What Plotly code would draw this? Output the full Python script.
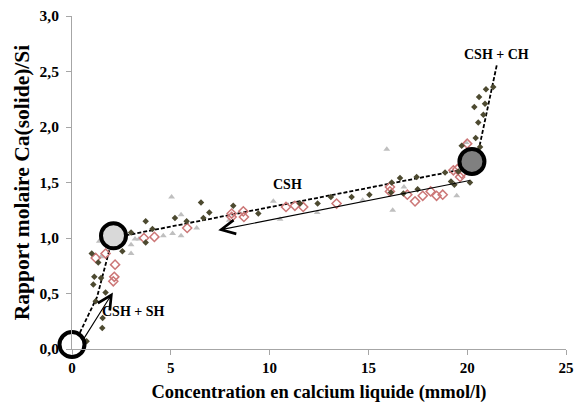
import plotly.graph_objects as go

# --------------------------------------------------
# DATA
# --------------------------------------------------

# dark diamonds
dark_x = [0.74, 1.53, 1.55, 1.2, 1.7, 1.08, 1.47, 1.13, 1.33, 1.0, 2.55, 2.99, 3.73, 3.73, 4.07,
          5.21, 5.8, 6.53, 6.65, 6.95, 8.16, 9.43, 11.54, 12.43, 13.1, 14.15, 15.05, 16.14,
          16.18, 16.6, 16.77, 17.44, 17.49, 18.88, 19.18, 19.35, 19.55, 20.14,
          19.72, 20.43, 20.65, 20.56, 20.82, 20.36, 20.9, 20.6, 20.95, 21.32]
dark_y = [0.07, 0.19, 0.28, 0.43, 0.51, 0.58, 0.64, 0.65, 0.78, 0.86, 0.88, 1.05, 1.15, 0.96, 1.08,
          1.18, 1.15, 1.32, 1.18, 1.23, 1.29, 1.22, 1.31, 1.31, 1.37, 1.37, 1.39, 1.41,
          1.5, 1.54, 1.4, 1.55, 1.44, 1.59, 1.51, 1.48, 1.6, 1.5,
          1.83, 1.9, 1.82, 2.04, 2.11, 2.18, 2.21, 2.27, 2.34, 2.36]

# red open diamonds
red_x = [1.2, 1.7, 2.18, 2.14, 2.09, 3.64, 4.17, 5.83, 8.08, 8.08, 8.67, 8.7, 10.83, 11.28, 11.7,
         13.39, 16.09, 16.09, 16.97, 17.36, 17.75, 18.15, 18.45, 18.76, 19.3, 19.5, 19.72,
         19.64, 20.0]
red_y = [0.82, 0.86, 0.76, 0.65, 0.61, 1.0, 1.01, 1.09, 1.22, 1.19, 1.24, 1.19, 1.28, 1.29, 1.28,
         1.31, 1.46, 1.42, 1.39, 1.33, 1.38, 1.42, 1.38, 1.39, 1.61, 1.62, 1.58,
         1.55, 1.85]

# grey triangles
grey_x = [1.38, 1.47, 2.99, 2.99, 3.19, 3.39, 4.62, 5.09, 5.52, 5.04, 5.52, 6.31, 7.96, 10.19,
          10.53, 12.41, 14.71, 15.93, 16.23, 16.8, 19.47, 19.94]
grey_y = [0.97, 0.83, 0.86, 0.94, 0.99, 0.99, 1.02, 1.04, 1.02, 1.37, 1.21, 1.09, 1.16, 1.33,
          1.17, 1.23, 1.34, 1.8, 1.25, 1.46, 1.38, 1.86]

# dashed trend line
trend_x = [0, 1.27, 2.05, 20.4, 21.5]
trend_y = [0, 0.47, 1.0, 1.64, 2.56]

# marked points (open / light / dark circles)
circle_x = [0, 2.1, 20.24]
circle_y = [0.04, 1.02, 1.69]
circle_fill = ["white", "#d9d9d9", "#808080"]

# arrows: (start x, start y, tip x, tip y)
arrows = [(20.2, 1.52, 7.4, 1.07), (0.55, 0.08, 2.07, 0.51)]

# zone labels
labels = ["CSH + CH", "CSH", "CSH + SH"]
label_x = [21.5, 10.9, 3.1]
label_y = [2.65, 1.48, 0.34]

x_ticks = [0, 5, 10, 15, 20, 25]
y_ticks = [0, 0.5, 1, 1.5, 2, 2.5, 3]
y_ticktext = ["0,0", "0,5", "1,0", "1,5", "2,0", "2,5", "3,0"]

FONT = "Times New Roman, Liberation Serif, serif"

# --------------------------------------------------
# FIGURE
# --------------------------------------------------

fig = go.Figure()

fig.add_trace(go.Scatter(
    x=trend_x, y=trend_y, mode="lines",
    line=dict(color="black", width=1.8, dash="4px,2px"),
    hoverinfo="skip"
))

fig.add_trace(go.Scatter(
    x=grey_x, y=grey_y, mode="markers",
    marker=dict(symbol="triangle-up", size=6, color="#bfbfbf")
))

fig.add_trace(go.Scatter(
    x=red_x, y=red_y, mode="markers",
    marker=dict(symbol="diamond-open", size=7, color="#cc7777", line=dict(width=1.5))
))

fig.add_trace(go.Scatter(
    x=dark_x, y=dark_y, mode="markers",
    marker=dict(symbol="diamond", size=5, color="#4d4a30")
))

fig.add_trace(go.Scatter(
    x=circle_x, y=circle_y, mode="markers", cliponaxis=False,
    marker=dict(symbol="circle", size=25, color=circle_fill,
                line=dict(color="black", width=4))
))

for x0, y0, x1, y1 in arrows:
    fig.add_annotation(
        x=x1, y=y1, ax=x0, ay=y0, xref="x", yref="y", axref="x", ayref="y",
        text="", showarrow=True, arrowhead=5, arrowsize=2.5, arrowwidth=1.1,
        arrowcolor="black"
    )

for t, x, y in zip(labels, label_x, label_y):
    fig.add_annotation(
        x=x, y=y, text="<b>" + t + "</b>", showarrow=False,
        font=dict(family=FONT, size=14, color="black")
    )

# page body keeps an 8px margin, so the figure is sized to fit inside it
fig.update_layout(
    width=576, height=401,
    margin=dict(l=64, r=18, t=8, b=60),
    plot_bgcolor="white",
    paper_bgcolor="white",
    showlegend=False,
    font=dict(family=FONT, color="black"),
    xaxis=dict(
        range=[0, 25], tickvals=x_ticks,
        ticktext=["<b>%d</b>" % v for v in x_ticks],
        showgrid=False, zeroline=False, showline=True, linecolor="#a6a6a6",
        ticks="outside", tickcolor="#a6a6a6", ticklen=5,
        ticklabeloverflow="allow", automargin=False,
        tickfont=dict(family=FONT, size=15, color="black"),
        title=dict(text="<b>Concentration en calcium liquide (mmol/l)</b>",
                   font=dict(family=FONT, size=18.5, color="black"), standoff=10)
    ),
    yaxis=dict(
        range=[0, 3], tickvals=y_ticks,
        ticktext=["<b>" + s + "</b>" for s in y_ticktext],
        showgrid=False, zeroline=False, showline=True, linecolor="#a6a6a6",
        ticks="outside", tickcolor="#a6a6a6", ticklen=5, ticklabelstandoff=4,
        ticklabeloverflow="allow", automargin=False,
        tickfont=dict(family=FONT, size=15.5, color="black"),
        title=dict(text="<b>Rapport molaire Ca(solide)/Si</b>",
                   font=dict(family=FONT, size=21.5, color="black"), standoff=4)
    )
)

fig.write_html("out.html")
